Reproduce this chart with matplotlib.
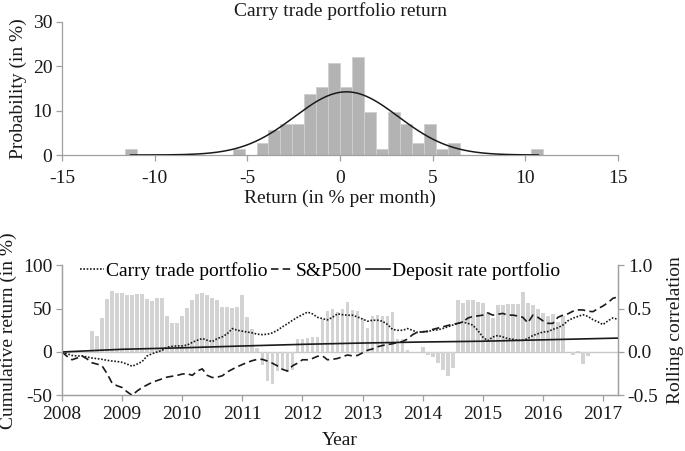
import numpy as np
import matplotlib
matplotlib.use("Agg")
import matplotlib.pyplot as plt

plt.rcParams['font.family'] = ['Liberation Serif', 'DejaVu Serif']
plt.rcParams['font.size'] = 14
plt.rcParams['axes.unicode_minus'] = False

# ---------------- Histogram data ----------------
hist_bin_start = -11.6
hist_bin_width = 0.645
hist_counts = [1, 0, 0, 0, 0, 0, 0, 0, 0, 1, 0, 2, 4, 5, 5, 10, 11, 15, 11, 16,
               7, 1, 7, 5, 2, 5, 1, 2, 0, 0, 0, 0, 0, 0, 1]
n_obs = 112
normal_mean = 0.35
normal_sd = 2.8
normal_range = (-11.3, 10.7)

# ---------------- Time series data (monthly, Jan 2008 = month 0) ----------------
carry_trade = [0, -2, -4, -4.6, -4.6, -5.8, -7, -7.7, -8.5, -9.6,
               -10.5, -11, -12, -14, -16.5, -14, -11, -4.6, -2, 0,
               2, 5.5, 6.5, 7, 7, 8, 11, 13.5, 15.5, 13.5,
               12, 15.5, 17.5, 21, 27, 25, 24, 23, 22, 20.5,
               20, 20.5, 22, 25, 29, 32.5, 36.5, 40, 43, 46,
               44, 40, 38.5, 37, 40, 44, 43, 42.4, 42.4, 40.4,
               38, 35.5, 36.6, 36.6, 35.4, 31.6, 26, 25, 25, 27,
               25, 22.5, 23.5, 23.5, 25, 25.5, 27, 29, 31, 32.7,
               34.6, 33, 31, 25, 17.3, 13, 17.3, 19, 17.3, 15.4,
               14.6, 13.5, 13.5, 15.5, 19, 21, 23, 23.5, 26, 28,
               31, 36, 39, 41, 43, 41, 37.3, 34.7, 31.6, 36,
               39.3, 37.5]
sp500 = [0, -5, -9, -7, -4.6, -8, -12.5, -14, -16, -25,
         -36, -39, -41, -46, -50, -45, -41, -38, -35, -33,
         -31, -29, -28, -27, -25.5, -25, -27, -22, -19.5, -27,
         -29.5, -29, -27.5, -23, -20, -17, -14.5, -12, -10, -8.5,
         -8.5, -10.5, -13, -16, -20, -22, -16, -13, -9, -9,
         -7.5, -5, -4.5, -9, -8.5, -7.5, -5.5, -3.5, -4.5, -4,
         -1, 2, 3.5, 6, 7.5, 8.5, 9.5, 11, 12, 15,
         20, 23, 23, 24, 26, 27.5, 29, 30.5, 32, 33,
         34.5, 39, 41, 41.6, 42.5, 45, 42.5, 43.5, 44.5, 42.5,
         42.5, 41.5, 40, 33.5, 42.5, 40, 36, 33, 33, 40,
         42.5, 44, 47, 48.5, 48.5, 47, 46.5, 50, 53, 57,
         62, 63.5]
deposit_years = [2008, 2009, 2010, 2011, 2012, 2013, 2014, 2015, 2016, 2017, 2017.25]
deposit_rate = [0, 3.1, 4.8, 6.9, 8.8, 10.3, 11.5, 12.4, 14.0, 15.6, 16.0]

corr_first_month = 6
rolling_corr = [0.24, 0.185, 0.39, 0.615, 0.70, 0.685, 0.685, 0.655, 0.66, 0.67,
                0.67, 0.615, 0.59, 0.62, 0.62, 0.42, 0.33, 0.34, 0.42, 0.51,
                0.60, 0.665, 0.68, 0.655, 0.62, 0.60, 0.52, 0.52, 0.51, 0.52,
                0.655, 0.40, 0.27, 0.05, -0.15, -0.33, -0.37, -0.22, -0.21, -0.23,
                -0.21, 0.15, 0.155, 0.16, 0.17, 0.17, 0.38, 0.47, 0.50, 0.46,
                0.50, 0.575, 0.49, 0.47, 0.39, 0.28, 0.42, 0.43, 0.41, 0.42,
                0.46, 0.15, 0.15, 0.02, 0.0, -0.005, 0.06, -0.04, -0.06, -0.13,
                -0.21, -0.28, -0.18, 0.60, 0.56, 0.60, 0.60, 0.58, 0.57, 0.46,
                0.39, 0.545, 0.54, 0.55, 0.55, 0.55, 0.69, 0.56, 0.54, 0.50,
                0.45, 0.41, 0.44, 0.35, 0.42, 0.0, -0.04, 0.015, -0.14, -0.045]

year_ticks = list(range(2008, 2018))

# ---------------- Figure ----------------
fig = plt.figure(figsize=(6.85, 4.51), dpi=100)
spine_col = '#a0a0a0'
txt_col = '#1a1a1a'
fs = 14

# --- top: histogram ---
ax1 = fig.add_axes([62/685, 1-155/451, 556/685, 133/451])
edges = hist_bin_start + hist_bin_width*np.arange(len(hist_counts))
dens = np.array(hist_counts)/(n_obs*hist_bin_width)*100
ax1.bar(edges, dens, width=hist_bin_width, align='edge', color='#b3b3b3',
        edgecolor='#cfcfcf', linewidth=0.6, zorder=2)
xs = np.linspace(normal_range[0], normal_range[1], 400)
pdf = 100/(normal_sd*np.sqrt(2*np.pi))*np.exp(-0.5*((xs-normal_mean)/normal_sd)**2)
ax1.plot(xs, pdf, color='#1a1a1a', lw=1.1, zorder=3)
ax1.set_xlim(-15, 15)
ax1.set_ylim(0, 30)
ax1.set_xticks([-15, -10, -5, 0, 5, 10, 15])
ax1.set_yticks([0, 10, 20, 30])
for s in ['top', 'right']:
    ax1.spines[s].set_visible(False)
for s in ['left', 'bottom']:
    ax1.spines[s].set_color(spine_col)
    ax1.spines[s].set_linewidth(0.9)
ax1.tick_params(colors=spine_col, labelcolor=txt_col, length=4, width=0.9, labelsize=fs)
ax1.tick_params(axis='x', pad=7)
ax1.tick_params(axis='y', pad=3)
ax1.set_title('Carry trade portfolio return', fontsize=fs, color=txt_col, pad=4)
ax1.set_xlabel('Return (in % per month)', fontsize=fs, color=txt_col, labelpad=2)
ax1.set_ylabel('Probability (in %)', fontsize=fs, color=txt_col, labelpad=4)

# --- bottom: cumulative returns + rolling correlation ---
ax = fig.add_axes([62/685, 1-395.3/451, 556/685, 130/451])
ax2 = ax.twinx()
ax.set_zorder(ax2.get_zorder()+1)
ax.patch.set_visible(False)

months = np.arange(len(carry_trade))
t = 2008 + months/12
tc = 2008 + (corr_first_month + np.arange(len(rolling_corr)))/12
ax2.bar(tc, rolling_corr, width=0.74/12, color='#d3d3d3', linewidth=0, zorder=2)
ax2.axhline(0, color='#c8c8c8', lw=1.0, zorder=1)
ax2.set_ylim(-0.5, 1.0)
ax2.set_yticks([-0.5, 0.0, 0.5, 1.0])
ax2.set_yticklabels(['-0.5', '0.0', '0.5', '1.0'])
ax2.set_ylabel('Rolling correlation', fontsize=fs, color=txt_col, labelpad=6)

l1, = ax.plot(t, carry_trade, color='#1a1a1a', lw=1.2, linestyle=(0, (1, 1)),
              label='Carry trade portfolio')
l2, = ax.plot(t, sp500, color='#1a1a1a', lw=1.2, linestyle=(0, (4.5, 2.5)),
              label='S&P500')
l3, = ax.plot(deposit_years, deposit_rate, color='#1a1a1a', lw=1.2,
              label='Deposit rate portfolio')
ax.set_xlim(2008, 2008 + (len(carry_trade)-1)/12)
ax.set_ylim(-50, 100)
ax.set_yticks([-50, 0, 50, 100])
ax.set_xticks(year_ticks)
ax.set_xlabel('Year', fontsize=fs, color=txt_col, labelpad=6)
ax.set_ylabel('Cumulative return (in %)', fontsize=fs, color=txt_col, labelpad=4)

for a in (ax, ax2):
    a.spines['top'].set_visible(False)
    for s in ['left', 'right', 'bottom']:
        a.spines[s].set_color(spine_col)
        a.spines[s].set_linewidth(0.9)
    a.tick_params(colors=spine_col, labelcolor=txt_col, length=4, width=0.9, labelsize=fs, pad=3)
ax.tick_params(axis='x', pad=4)

ax.legend(handles=[l1, l2, l3], loc='center', bbox_to_anchor=(0.464, 0.955), ncol=3,
          frameon=False, handlelength=1.2, handletextpad=0.1, columnspacing=0.2,
          fontsize=fs, borderaxespad=0, borderpad=0)

fig.savefig('out.png', dpi=100)
